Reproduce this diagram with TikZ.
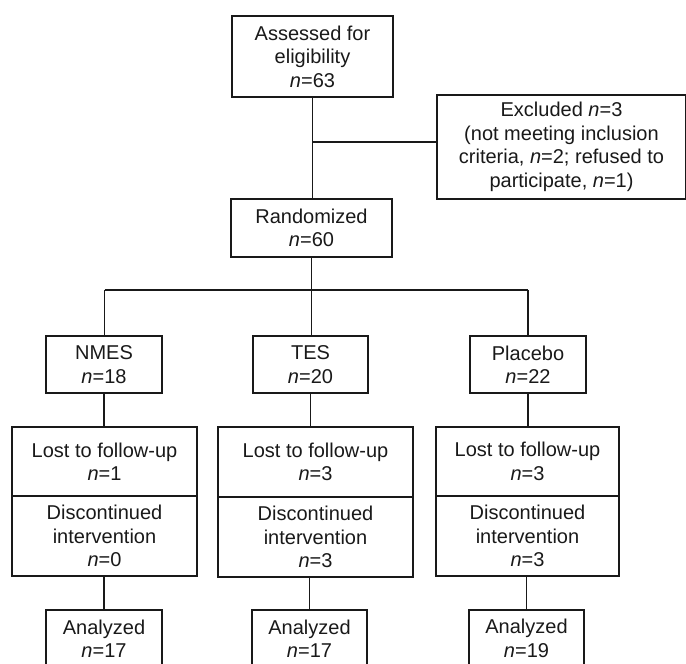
\documentclass[tikz,border=0pt]{standalone}
\usepackage{fontspec}
\setmainfont{Liberation Sans}
\begin{document}
\begin{tikzpicture}[x=1pt,y=-1pt,
  box/.style={draw=black!90, line width=1.8pt, inner sep=0pt, outer sep=0pt, align=center,
    text=black!90, font=\fontsize{20}{23.5}\selectfont},
  conn/.style={draw=black!90, line width=1.8pt}]
\useasboundingbox (0,0) rectangle (686,664);
\clip (0,0) rectangle (686,664);
% top
\node[box, minimum width=161pt, minimum height=81pt] (assess) at (312.5,56.5)
  {Assessed for\\eligibility\\\textit{n}=63};
\node[box, minimum width=249pt, minimum height=104pt] (excl) at (561.5,147)
  {Excluded \textit{n}=3\\(not meeting inclusion\\criteria, \textit{n}=2; refused to\\participate, \textit{n}=1)};
\node[box, minimum width=161pt, minimum height=58pt] (rand) at (311.5,228)
  {Randomized\\\textit{n}=60};
% groups
\node[box, minimum width=116pt, minimum height=57pt] (nmes) at (104,364.5) {NMES\\\textit{n}=18};
\node[box, minimum width=115pt, minimum height=57pt] (tes) at (310.5,364.5) {TES\\\textit{n}=20};
\node[box, minimum width=116pt, minimum height=57pt] (plac) at (528,364.5) {Placebo\\\textit{n}=22};
% lost
\node[box, minimum width=185pt, minimum height=69pt] (lost1) at (104.5,461.5) {Lost to follow-up\\\textit{n}=1};
\node[box, minimum width=195pt, minimum height=70pt] (lost2) at (315.5,462) {Lost to follow-up\\\textit{n}=3};
\node[box, minimum width=183pt, minimum height=69pt] (lost3) at (527.5,461.5) {Lost to follow-up\\\textit{n}=3};
% discontinued
\node[box, minimum width=185pt, minimum height=80pt, anchor=north] (disc1) at (lost1.south) {Discontinued\\intervention\\\textit{n}=0};
\node[box, minimum width=195pt, minimum height=80pt, anchor=north] (disc2) at (lost2.south) {Discontinued\\intervention\\\textit{n}=3};
\node[box, minimum width=183pt, minimum height=80pt, anchor=north] (disc3) at (lost3.south) {Discontinued\\intervention\\\textit{n}=3};
% analyzed
\node[box, minimum width=116pt, minimum height=57pt] (anal1) at (104,638.5) {Analyzed\\\textit{n}=17};
\node[box, minimum width=115pt, minimum height=57pt] (anal2) at (309.5,638.5) {Analyzed\\\textit{n}=17};
\node[box, minimum width=115pt, minimum height=57pt] (anal3) at (526.5,638.5) {Analyzed\\\textit{n}=19};
% junctions
\coordinate (j1) at (312,142);
\coordinate (bl) at (104.5,290);
\coordinate (br) at (528,290);
% connectors
\draw[conn] (assess.south) -- (assess.south |- rand.north);
\draw[conn] (j1) -- (j1 -| excl.west);
\draw[conn] (bl) -- (br);
\draw[conn] (rand.south) -- (rand.south |- tes.north);
\draw[conn] (bl) -- (bl |- nmes.north);
\draw[conn] (br) -- (br |- plac.north);
\draw[conn] (nmes.south) -- (nmes.south |- lost1.north);
\draw[conn] (tes.south) -- (tes.south |- lost2.north);
\draw[conn] (plac.south) -- (plac.south |- lost3.north);
\draw[conn] (anal1.north |- disc1.south) -- (anal1.north);
\draw[conn] (anal2.north |- disc2.south) -- (anal2.north);
\draw[conn] (anal3.north |- disc3.south) -- (anal3.north);
\end{tikzpicture}
\end{document}
